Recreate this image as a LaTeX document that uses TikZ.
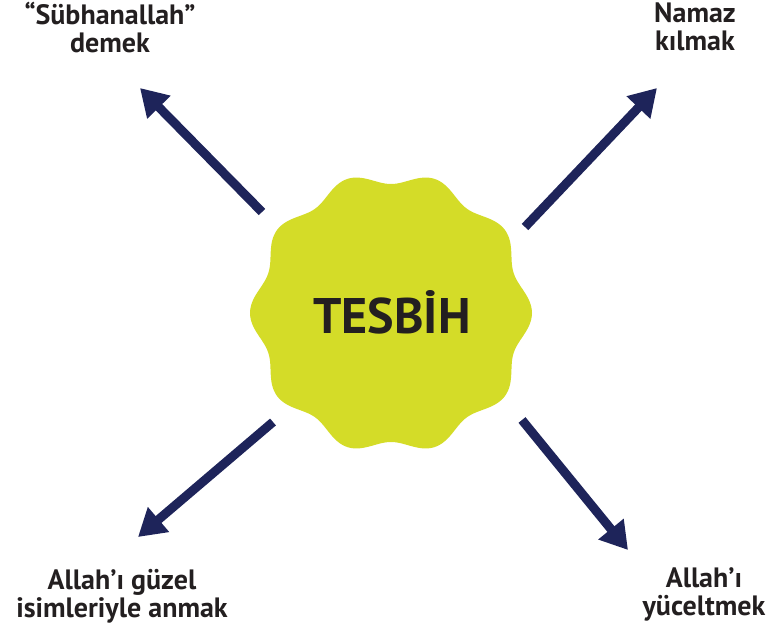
\documentclass[tikz,border=0pt]{standalone}
\usepackage{fontspec}
\setmainfont{PT Sans}
\usetikzlibrary{arrows.meta}
\definecolor{badge}{RGB}{212,220,40}
\definecolor{navy}{RGB}{30,36,90}
\definecolor{ink}{RGB}{35,31,32}
\begin{document}
\begin{tikzpicture}[x=1pt,y=-1pt,
  lbl/.style={font=\bfseries\fontsize{28}{28}\selectfont, text=ink, align=center, inner sep=0pt},
  arr/.style={navy, line width=9pt, -{Triangle[length=27pt,width=31pt]}}]
\useasboundingbox (0,0) rectangle (772,632);
% badge
\fill[badge] plot[domain=0:360, samples=301, smooth] ({391+(135+6*cos(10*\x))*cos(\x)}, {313+(135+6*cos(10*\x))*sin(\x)}) -- cycle;
\node[font=\bfseries\fontsize{50}{50}\selectfont, text=ink, inner sep=0pt] (c) at (392,312) {TESBİH};
% labels (base anchor = baseline of the last line)
\node[lbl, anchor=base] (l1) at (110,52) {“Sübhanallah”\\demek};
\node[lbl, anchor=base] (l2) at (695,50) {Namaz\\kılmak};
\node[lbl, anchor=base] (l3) at (122,617) {Allah’ı güzel\\isimleriyle anmak};
\node[lbl, anchor=base] (l4) at (704,615) {Allah’ı\\yüceltmek};
% arrow ends
\coordinate (t1) at (262,212); \coordinate (h1) at (140,88);
\coordinate (t2) at (525,227); \coordinate (h2) at (657,88);
\coordinate (t3) at (273,422); \coordinate (h3) at (138,537);
\coordinate (t4) at (522,420); \coordinate (h4) at (628,550);
\draw[arr] (t1) -- (h1);
\draw[arr] (t2) -- (h2);
\draw[arr] (t3) -- (h3);
\draw[arr] (t4) -- (h4);
\end{tikzpicture}
\end{document}
